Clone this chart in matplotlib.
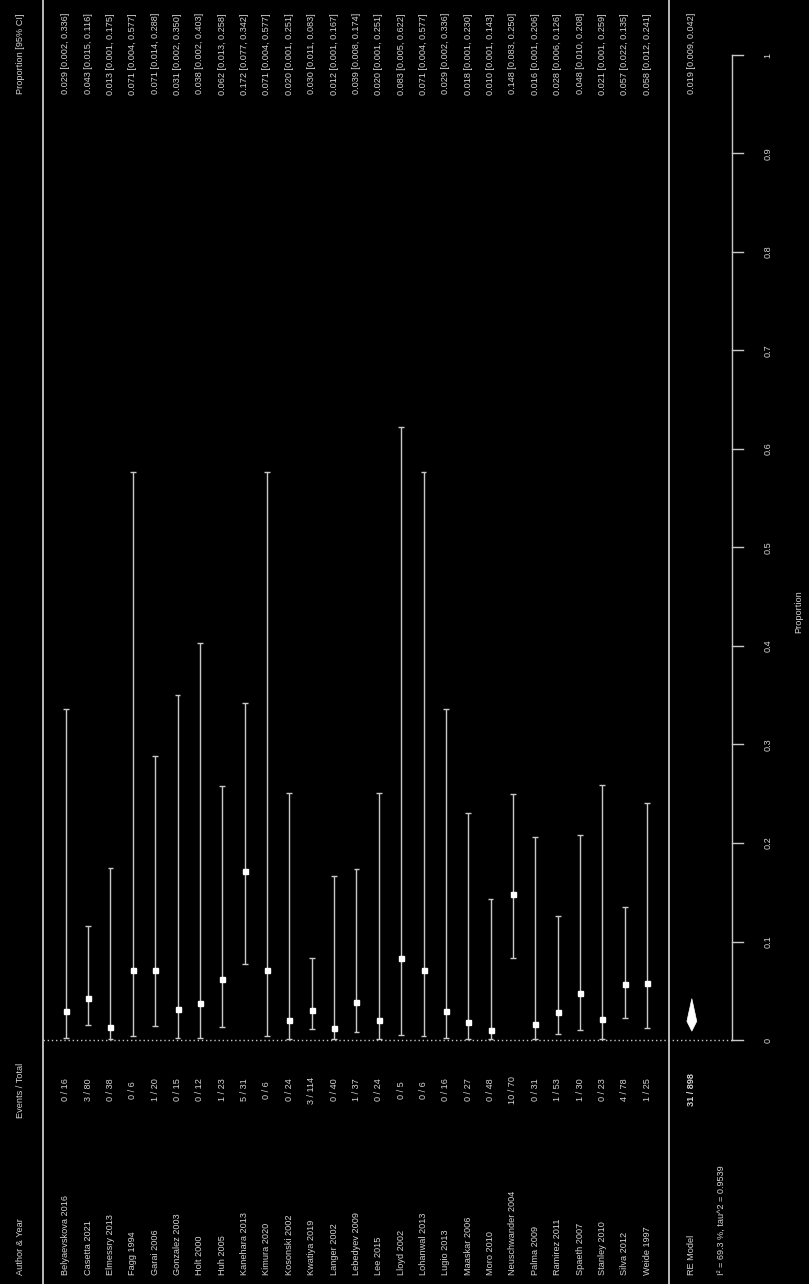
import numpy as np
import matplotlib.pyplot as plt

plt.rcParams['font.family'] = ['Liberation Sans', 'DejaVu Sans']

studies = ['Belyaevskova 2016', 'Casetta 2021', 'Elmessry 2013', 'Fagg 1994', 'Garai 2006',
           'Gonzalez 2003', 'Holt 2000', 'Huh 2005', 'Kanehara 2013', 'Kimura 2020',
           'Kosonski 2002', 'Kwatiya 2019', 'Langer 2002', 'Lebedyev 2009', 'Lee 2015',
           'Lloyd 2002', 'Lohanwal 2013', 'Lugio 2013', 'Maaskar 2006', 'Moro 2010',
           'Neuschwander 2004', 'Palma 2009', 'Ramirez 2011', 'Spaeth 2007', 'Stanley 2010',
           'Silva 2012', 'Weide 1997']
events = [0, 3, 0, 0, 1, 0, 0, 1, 5, 0, 0, 3, 0, 1, 0, 0, 0, 0, 0, 0, 10, 0, 1, 1, 0, 4, 1]
totals = [16, 80, 38, 6, 20, 15, 12, 23, 31, 6, 24, 114, 40, 37, 24, 5, 6, 16, 27, 48, 70,
          31, 53, 30, 23, 78, 25]
est = [0.029, 0.043, 0.013, 0.071, 0.071, 0.031, 0.038, 0.062, 0.172, 0.071, 0.020, 0.030,
       0.012, 0.039, 0.020, 0.083, 0.071, 0.029, 0.018, 0.010, 0.148, 0.016, 0.028, 0.048,
       0.021, 0.057, 0.058]
lower = [0.002, 0.015, 0.001, 0.004, 0.014, 0.002, 0.002, 0.013, 0.077, 0.004, 0.001, 0.011,
         0.001, 0.008, 0.001, 0.005, 0.004, 0.002, 0.001, 0.001, 0.083, 0.001, 0.006, 0.010,
         0.001, 0.022, 0.012]
upper = [0.336, 0.116, 0.175, 0.577, 0.288, 0.350, 0.403, 0.258, 0.342, 0.577, 0.251, 0.083,
         0.167, 0.174, 0.251, 0.622, 0.577, 0.336, 0.230, 0.143, 0.250, 0.206, 0.126, 0.208,
         0.259, 0.135, 0.241]
re_est, re_lo, re_hi = 0.019, 0.009, 0.042
het_text = 'I\u00b2 = 69.3 %, tau^2 = 0.9539'
ticks = [0, 0.1, 0.2, 0.3, 0.4, 0.5, 0.6, 0.7, 0.8, 0.9, 1]
tick_labels = ['0', '0.1', '0.2', '0.3', '0.4', '0.5', '0.6', '0.7', '0.8', '0.9', '1']

fg = '#d4d4d4'
ln = '#c8c8c8'
fs = 6.6

fig = plt.figure(figsize=(8.09, 12.84), dpi=100, facecolor='black')
ax = fig.add_axes([0, 0, 1, 1])
ax.set_facecolor('black')
ax.set_xlim(-2.94, 33.24)
ax.set_ylim(-0.2477, 1.0558)
ax.axis('off')

k = len(studies)
rows = np.arange(k)
re_row = k + 1
y_name = -0.2386
y_ev = -0.0508
y_ci = 1.0426
x_axis = 29.8

# separator lines
ax.axvline(-1, color=ln, lw=1.3)
ax.axvline(k, color=ln, lw=1.3)
# reference line at 0
ax.plot([-1, x_axis], [0, 0], color=ln, lw=1.0, ls=(0, (1, 2)))

# CIs
cap = 0.13
ax.vlines(rows, lower, upper, color=ln, lw=1.0)
ax.hlines(lower, rows - cap, rows + cap, color=ln, lw=1.0)
ax.hlines(upper, rows - cap, rows + cap, color=ln, lw=1.0)
ax.plot(rows, est, 's', color='white', ms=3.6, mec='white')

# summary diamond
w = 0.22
ax.fill([re_row, re_row + w, re_row, re_row - w], [re_lo, re_est, re_hi, re_est],
        color='white', ec='white', lw=0.5)

# x axis (rotated)
ax.plot([x_axis, x_axis], [0, 1], color=ln, lw=1.0)
for t, lab in zip(ticks, tick_labels):
    ax.plot([x_axis, x_axis + 0.48], [t, t], color=ln, lw=1.0)
    ax.text(31.4, t, lab, rotation=90, ha='center', va='center', color=fg, fontsize=fs)
ax.text(32.8, 0.435, 'Proportion', rotation=90, ha='center', va='center', color=fg, fontsize=fs)

# headers
hx = -2.04
ax.text(hx, y_name, 'Author & Year', rotation=90, ha='center', va='bottom', color=fg, fontsize=fs)
ax.text(hx, y_ev, 'Events / Total', rotation=90, ha='center', va='center', color=fg, fontsize=fs)
ax.text(hx, y_ci, 'Proportion [95% CI]', rotation=90, ha='center', va='top', color=fg, fontsize=fs)

# study rows
for i in range(k):
    ax.text(i, y_name, studies[i], rotation=90, ha='center', va='bottom', color=fg, fontsize=fs)
    ax.text(i, y_ev, '%d / %d' % (events[i], totals[i]), rotation=90, ha='center', va='center',
            color=fg, fontsize=fs)
    ax.text(i, y_ci, '%.3f [%.3f, %.3f]' % (est[i], lower[i], upper[i]), rotation=90,
            ha='center', va='top', color=fg, fontsize=fs)

# summary row
ax.text(re_row, y_name, 'RE Model', rotation=90, ha='center', va='bottom', color=fg, fontsize=fs)
ax.text(re_row, y_ev, '%d / %d' % (sum(events), sum(totals)), rotation=90, ha='center',
        va='center', color=fg, fontsize=fs, fontweight='bold')
ax.text(re_row, y_ci, '%.3f [%.3f, %.3f]' % (re_est, re_lo, re_hi), rotation=90,
        ha='center', va='top', color=fg, fontsize=fs)
ax.text(re_row + 1.3, y_name, het_text, rotation=90, ha='center', va='bottom', color=fg, fontsize=fs)

fig.savefig('out.png', dpi=100, facecolor='black')
